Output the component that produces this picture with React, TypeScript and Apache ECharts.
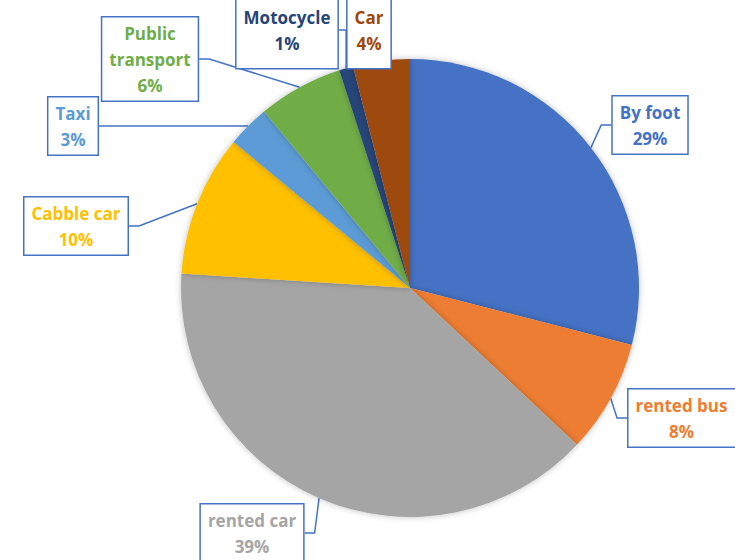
import React, { useEffect, useRef } from "react";
import * as echarts from "echarts";

const categories = [
  "By foot",
  "rented bus",
  "rented car",
  "Cabble car",
  "Taxi",
  "Public transport",
  "Motocycle",
  "Car",
];
const shares = [29, 8, 39, 10, 3, 6, 1, 4];
const colors = [
  "#4472C4",
  "#ED7D31",
  "#A5A5A5",
  "#FFC000",
  "#5B9BD5",
  "#70AD47",
  "#264478",
  "#9E480E",
];
// label centre positions (layout only)
const labelPos: [number, number][] = [
  [650, 125],
  [686, 418],
  [252, 533],
  [76, 226],
  [73, 126],
  [150, 59],
  [287, 30],
  [369, 30],
];
const topPad = [3, 3, 3, 3, 3, 3, 22, 22];
const rightPad = [7, 16, 7, 7, 7, 7, 7, 7];

export default function App() {
  const ref = useRef<HTMLDivElement>(null);
  useEffect(() => {
    if (!ref.current) return;
    const chart = echarts.init(ref.current, undefined, { renderer: "svg" });
    chart.setOption({
      animation: false,
      backgroundColor: "#ffffff",
      series: [
        {
          type: "pie",
          center: [410, 288],
          radius: [0, 229],
          startAngle: 90,
          clockwise: true,
          avoidLabelOverlap: false,
          itemStyle: {
            borderWidth: 0,
            shadowBlur: 6,
            shadowColor: "rgba(0,0,0,0.25)",
          },
          label: {
            show: true,
            fontFamily: "Open Sans",
            fontWeight: "bold",
            fontSize: 17,
            lineHeight: 26,
            align: "center",
            backgroundColor: "#ffffff",
            borderColor: "#4472C4",
            borderWidth: 1.5,
            formatter: (p: any) =>
              (p.name === "Public transport" ? "Public\ntransport" : p.name) +
              "\n" +
              Math.round(p.percent) +
              "%",
          },
          labelLine: {
            show: true,
            length: 10,
            length2: 10,
            lineStyle: { color: "#4472C4", width: 1.5 },
          },
          labelLayout: (params: any) => {
            const pos = labelPos[params.dataIndex];
            return {
              x: pos[0],
              y: pos[1],
              align: "center",
              verticalAlign: "middle",
            };
          },
          data: categories.map((name, i) => ({
            name,
            value: shares[i],
            itemStyle: { color: colors[i] },
            label: { color: colors[i], padding: [topPad[i], rightPad[i], 2, 7] },
          })),
        },
      ],
    });
    return () => chart.dispose();
  }, []);
  return (
    <div
      ref={ref}
      style={{
        position: "fixed",
        left: 0,
        top: 0,
        width: 735,
        height: 560,
        overflow: "hidden",
      }}
    />
  );
}
